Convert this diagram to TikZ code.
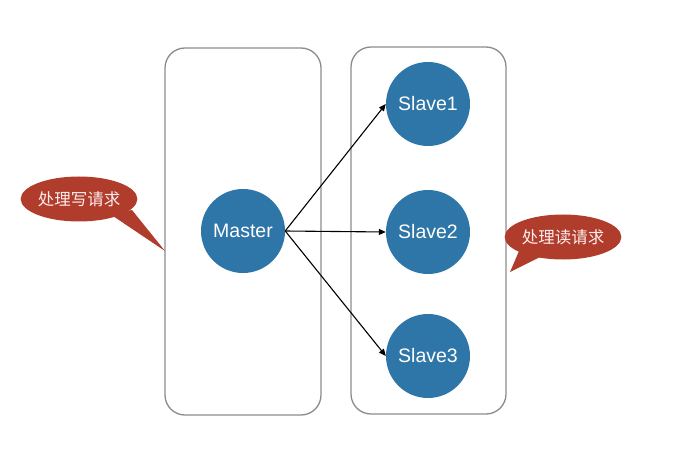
\documentclass[tikz,border=0pt]{standalone}
\usepackage{fontspec}
\setmainfont{Liberation Sans}
\newfontfamily\cjk{Noto Sans CJK SC}
\usetikzlibrary{shapes.geometric,arrows.meta}
\definecolor{nodeblue}{RGB}{46,117,168}
\definecolor{calloutred}{RGB}{176,60,44}
\definecolor{boxgrey}{RGB}{140,140,140}
\tikzset{
  groupbox/.style={draw=boxgrey,line width=1.3pt,rounded corners=20pt},
  server/.style={circle,fill=nodeblue,minimum size=84pt,inner sep=0pt,text=white,font=\fontsize{19.5}{22}\selectfont},
  callout/.style={ellipse,fill=calloutred,minimum width=110pt,minimum height=45pt,inner sep=0pt,text=white!93!red,font=\cjk\fontsize{16.5}{19}\selectfont},
  pointer/.style={fill=calloutred},
  link/.style={draw=black,line width=1.1pt,-{Triangle[length=7pt,width=6pt]}}
}
\begin{document}
\begin{tikzpicture}[x=1pt,y=-1pt]
\useasboundingbox (0,0) rectangle (695,454);
\fill[white] (0,0) rectangle (695,454);
% group boxes
\draw[groupbox] (165,48) rectangle (321,415);
\draw[groupbox] (351,47) rectangle (506,414);
% servers
\node[server] (master) at (243,231) {Master};
\node[server] (s1) at (428,104) {Slave1};
\node[server] (s2) at (428,232) {Slave2};
\node[server] (s3) at (428,356) {Slave3};
% links
\draw[link] (master.east) -- (s1.west);
\draw[link] (master.east) -- (s2.west);
\draw[link] (master.east) -- (s3.west);
% callouts
\coordinate (lt) at (165,251);
\fill[pointer] (110,214) -- (lt) -- (132,210) -- cycle;
\node[callout] (lw) at (79,199) {处理写请求};
\coordinate (rt) at (510,272);
\fill[pointer] (522,244) -- (rt) -- (546,254) -- cycle;
\node[callout] (rr) at (563,237) {处理读请求};
\end{tikzpicture}
\end{document}
